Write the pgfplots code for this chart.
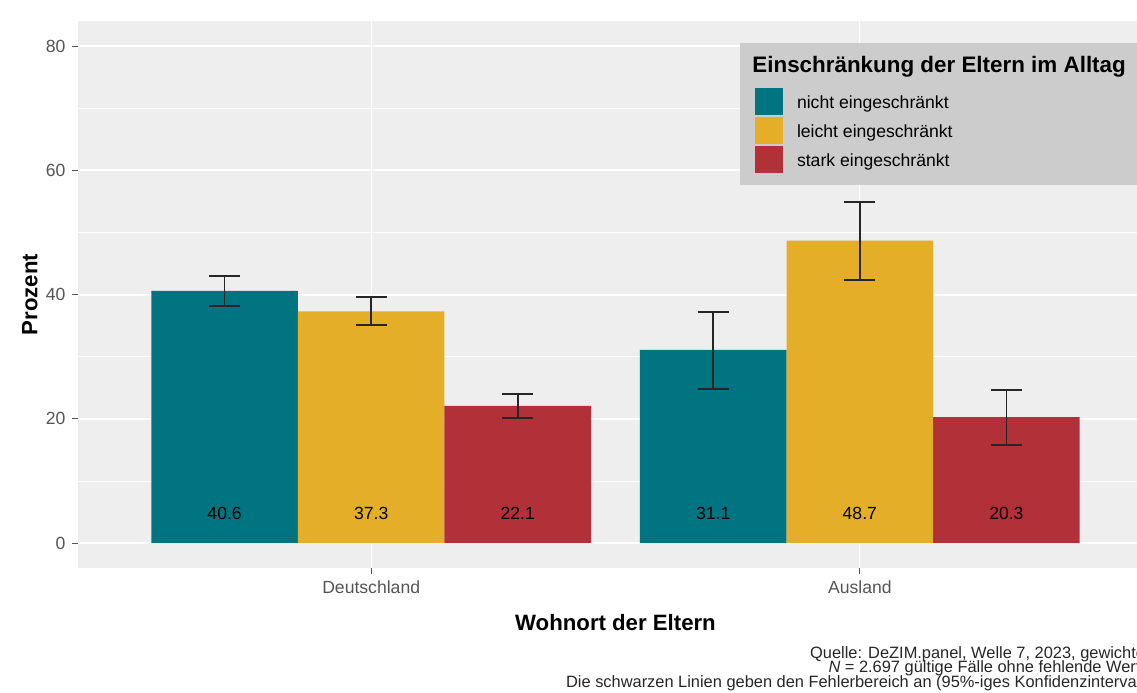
\documentclass[border=0pt]{standalone}
\usepackage{pgfplots}
\pgfplotsset{compat=1.18}
\usepackage{pgfplotstable}
\usepackage{fontspec}
\setmainfont{Liberation Sans}

\definecolor{cnicht}{RGB}{0,116,128}
\definecolor{cleicht}{RGB}{228,174,40}
\definecolor{cstark}{RGB}{178,48,56}
\definecolor{panelbg}{RGB}{238,238,238}
\definecolor{legbg}{RGB}{204,204,204}
\definecolor{ticktxt}{RGB}{85,85,85}

% Deutschland at x=1, Ausland at x=2, bars dodged by 0.3
% ep / em = distance to upper / lower end of the 95% interval
\pgfplotstableread{
x    y     ep   em
0.7  40.6  2.4  2.4
1.7  31.1  6.1  6.3
}\tabnicht
\pgfplotstableread{
x    y     ep   em
1.0  37.3  2.3  2.2
2.0  48.7  6.2  6.3
}\tableicht
\pgfplotstableread{
x    y     ep   em
1.3  22.1  1.9  2.0
2.3  20.3  4.3  4.5
}\tabstark
\pgfplotstableread{
x    y    lbl
0.7  4.8  40.6
1.0  4.8  37.3
1.3  4.8  22.1
1.7  4.8  31.1
2.0  4.8  48.7
2.3  4.8  20.3
}\tablabels

\pgfplotsset{
  barerr/.style={
    ybar, bar width=0.3, bar shift=0pt, draw=none,
    error bars/y dir=both, error bars/y explicit,
    error bars/error bar style={black!85, line width=0.9pt},
    error bars/error mark options={rotate=90, black!85, line width=0.9pt, mark size=7.75pt}
  }
}

\begin{document}
\begin{tikzpicture}
\begin{axis}[
  at={(39pt,62pt)}, anchor=south west,
  width=537.5pt, height=273.4pt, scale only axis,
  xmin=0.4, xmax=2.6, ymin=-4, ymax=84,
  axis background/.style={fill=panelbg},
  axis line style={draw=none},
  xtick={1,2}, xticklabels={Deutschland,Ausland},
  ytick={0,20,40,60,80}, minor ytick={10,30,50,70},
  xmajorgrids, ymajorgrids, yminorgrids,
  major grid style={white, line width=0.9pt},
  minor grid style={white, line width=0.45pt},
  x grid style={white, line width=0.6pt},
  tick align=outside, tick pos=left,
  major tick length=2.75pt, minor tick length=0pt,
  tick style={ticktxt, line width=0.5pt},
  ticklabel style={font=\fontsize{8.8}{10}\selectfont, text=ticktxt},
  /pgf/number format/assume math mode=true,
  xlabel={Wohnort der Eltern}, ylabel={Prozent},
  label style={font=\bfseries\fontsize{11.1}{13}\selectfont},
  xlabel style={at={(axis description cs:0.5,-0.1006)}, anchor=center, inner sep=0pt},
  ylabel style={at={(axis description cs:-0.0447,0.5)}, anchor=center, inner sep=0pt},
  legend style={at={(axis description cs:0.6298,0.8778)}, anchor=north west,
    fill=none, draw=none, inner sep=0pt, outer sep=0pt,
    row sep=1pt, column sep=7pt, nodes={inner sep=0pt},
    font=\fontsize{8.8}{10}\selectfont},
  legend cell align=left,
  legend image code/.code={\fill[#1, draw=none] (0pt,-5.75pt) rectangle (14pt,7.75pt);},
]
% legend background and title
\fill[legbg] (rel axis cs:0.6158,0.7004) rectangle (rel axis cs:1.01,0.9602);
\node[anchor=base west, inner sep=0pt, font=\bfseries\fontsize{11.2}{13}\selectfont]
  at (rel axis cs:0.627,0.9053) {Einschränkung der Eltern im Alltag};

\addplot[barerr, fill=cnicht] table[x=x, y=y, y error plus=ep, y error minus=em] {\tabnicht};
\addlegendentry{nicht eingeschränkt}
\addplot[barerr, fill=cleicht] table[x=x, y=y, y error plus=ep, y error minus=em] {\tableicht};
\addlegendentry{leicht eingeschränkt}
\addplot[barerr, fill=cstark] table[x=x, y=y, y error plus=ep, y error minus=em] {\tabstark};
\addlegendentry{stark eingeschränkt}

\addplot[draw=none, mark=none, forget plot, nodes near coords, point meta=explicit symbolic,
  nodes near coords style={anchor=center, inner sep=0pt, text=black, font=\fontsize{8.8}{10}\selectfont}]
  table[x=x, y=y, meta=lbl] {\tablabels};
\end{axis}

\begin{scope}[font=\fontsize{8.2}{9}\selectfont, every node/.style={anchor=base east, inner sep=0pt, text=black!85}]
\node at (575pt,16.5pt) {Quelle: DeZIM.panel, Welle 7, 2023, gewichtet};
\node at (575pt,9.5pt) {\textit{N} = 2.697 gültige Fälle ohne fehlende Werte};
\node at (575pt,2pt) {Die schwarzen Linien geben den Fehlerbereich an (95\%-iges Konfidenzintervall)};
\end{scope}

\pgfresetboundingbox
\path (0pt,0pt) rectangle (568.5pt,346pt);
\end{tikzpicture}
\end{document}
